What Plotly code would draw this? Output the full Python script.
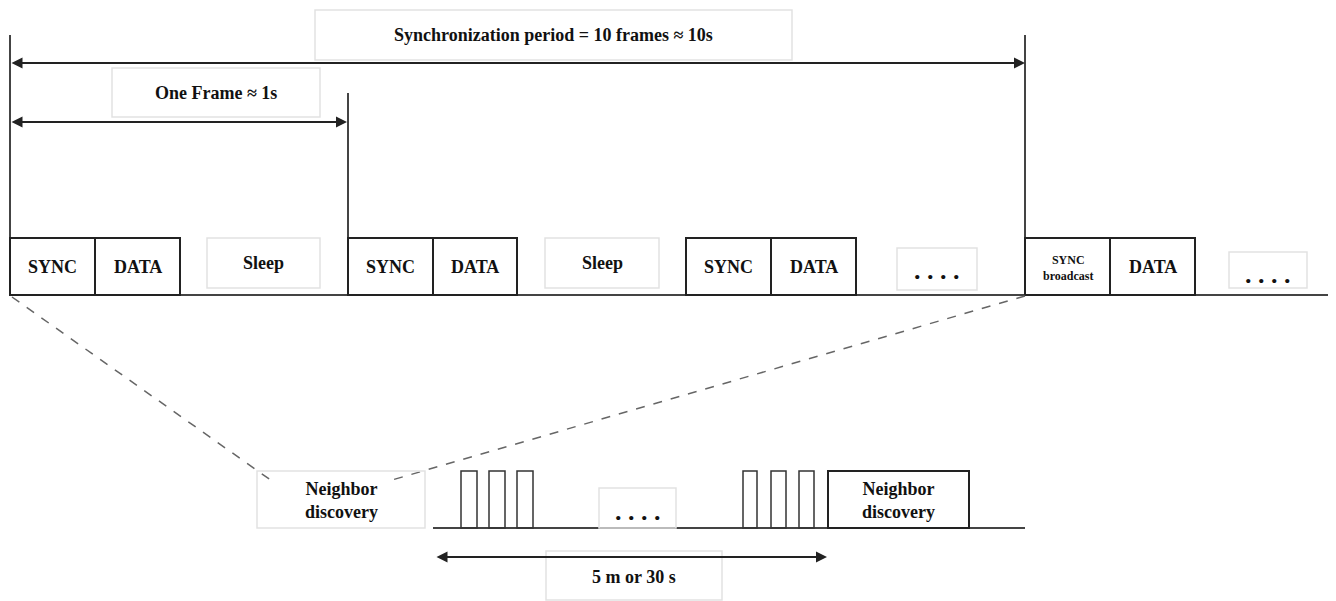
import plotly.graph_objects as go

# ---------------- diagram data (diagram units = pixels of the 1336x601 canvas) ----------------
W, H = 1336, 601
PAGE_OFFSET = 8  # default body margin of the html page

# Top timeline: boxed slots sitting on the baseline
slot_labels = ["SYNC", "DATA", "SYNC", "DATA", "SYNC", "DATA", "SYNC<br>broadcast", "DATA"]
slot_x0 = [10, 95, 348, 433, 686, 771, 1025, 1110]
slot_x1 = [95, 180, 433, 517, 771, 856, 1110, 1195]
slot_top, slot_base = 238, 295

# Soft (light-grey) label boxes on the top timeline
soft_labels = ["Sleep", "Sleep", ". . . .", ". . . ."]
soft_x0 = [207, 545, 897, 1229]
soft_x1 = [320, 659, 977, 1307]
soft_y0 = [238, 238, 248, 252]
soft_y1 = [288, 288, 290, 288]
soft_text_y = [263, 263, 270, 274]

# Frame boundaries (vertical markers)
marker_x = [10, 348, 1025]
marker_top = [35, 93, 35]

# Dimension arrows with captions
dim_labels = ["Synchronization period = 10 frames ≈ 10s", "One Frame ≈ 1s", "5 m or 30 s"]
dim_x0 = [10, 10, 435]
dim_x1 = [1025, 347, 827]
dim_y = [63, 122, 557]
cap_x0 = [315, 112, 546]
cap_x1 = [792, 320, 722]
cap_y0 = [10, 68, 551]
cap_y1 = [60, 117, 600]
cap_text_y = [35, 93, 577]

# Bottom (zoomed) timeline
nd_labels = ["Neighbor<br>discovery", "Neighbor<br>discovery"]
nd_x0 = [257, 828]
nd_x1 = [425, 969]
nd_soft = [True, False]
nd_top, nd_base = 471, 528
pulse_x0 = [461, 489, 517, 743, 771, 799]
pulse_x1 = [477, 505, 533, 757, 786, 814]
bottom_line_x = [433, 1025]
bottom_dots_box = [599, 676, 488, 528]
bottom_dots_y = 511

# Zoom (dashed) guide lines: from top timeline to bottom detail
zoom_from = [(12, 297), (1025, 296)]
zoom_to = [(272, 481), (392, 480)]

# ---------------- styles ----------------
FONT = "Liberation Serif"
DARK = "#222222"
SOFT = "#e2e2e2"

fig = go.Figure()
shapes = []
annotations = []


def text(x, y, s, size=18, bold=True):
    annotations.append(dict(
        x=x, y=y, xref="x", yref="y", text=(f"<b>{s}</b>" if bold else s),
        showarrow=False, font=dict(family=FONT, size=size, color="#111111"),
        xanchor="center", yanchor="middle"))


# baselines
shapes.append(dict(type="line", x0=10, x1=W + 20, y0=slot_base, y1=slot_base,
                   line=dict(color="#444444", width=2)))
shapes.append(dict(type="line", x0=bottom_line_x[0], x1=bottom_line_x[1], y0=nd_base, y1=nd_base,
                   line=dict(color="#444444", width=2)))

# vertical frame markers
for mx, mt in zip(marker_x, marker_top):
    shapes.append(dict(type="line", x0=mx, x1=mx, y0=mt, y1=slot_base,
                       line=dict(color="#444444", width=2)))

# slots
for lab, a, b in zip(slot_labels, slot_x0, slot_x1):
    shapes.append(dict(type="rect", x0=a, x1=b, y0=slot_top, y1=slot_base,
                       line=dict(color=DARK, width=2)))
    if "broadcast" in lab:
        text((a + b) / 2, 268, lab, size=12, bold=True)
    else:
        text((a + b) / 2, 267, lab)

# soft boxes
for lab, a, b, y0, y1, ty in zip(soft_labels, soft_x0, soft_x1, soft_y0, soft_y1, soft_text_y):
    shapes.append(dict(type="rect", x0=a, x1=b, y0=y0, y1=y1,
                       line=dict(color=SOFT, width=1.5)))
    if lab.startswith("."):
        text((a + b) / 2, ty, lab, size=26)
    else:
        text((a + b) / 2, ty, lab)

# dimension arrows & captions
for lab, a, b, y, c0, c1, cy0, cy1, ty in zip(dim_labels, dim_x0, dim_x1, dim_y,
                                             cap_x0, cap_x1, cap_y0, cap_y1, cap_text_y):
    shapes.append(dict(type="rect", x0=c0, x1=c1, y0=cy0, y1=cy1,
                       line=dict(color=SOFT, width=1.5)))
    annotations.append(dict(
        x=b, y=y, ax=a, ay=y, xref="x", yref="y", axref="x", ayref="y",
        text="", showarrow=True, arrowhead=2, startarrowhead=2, arrowside="end+start",
        arrowsize=1.1, startarrowsize=1.1, arrowwidth=2, arrowcolor=DARK))
    text((c0 + c1) / 2, ty, lab)

# zoom guide lines
for (fx, fy), (tx, ty) in zip(zoom_from, zoom_to):
    shapes.append(dict(type="line", x0=fx, y0=fy, x1=tx, y1=ty,
                       line=dict(color="#666666", width=1.5, dash="dash")))

# neighbor discovery boxes
for lab, a, b, soft in zip(nd_labels, nd_x0, nd_x1, nd_soft):
    shapes.append(dict(type="rect", x0=a, x1=b, y0=nd_top, y1=nd_base,
                       line=dict(color=(SOFT if soft else DARK), width=(1.5 if soft else 2))))
    text((a + b) / 2, 500, lab)

# pulses
for a, b in zip(pulse_x0, pulse_x1):
    shapes.append(dict(type="rect", x0=a, x1=b, y0=nd_top, y1=nd_base,
                       line=dict(color="#333333", width=1.5)))

# bottom ellipsis box
bx0, bx1, by0, by1 = bottom_dots_box
shapes.append(dict(type="rect", x0=bx0, x1=bx1, y0=by0, y1=by1,
                   line=dict(color=SOFT, width=1.5)))
text((bx0 + bx1) / 2, bottom_dots_y, ". . . .", size=26)

fig.update_layout(
    width=W, height=H, margin=dict(l=0, r=0, t=0, b=0),
    paper_bgcolor="white", plot_bgcolor="white",
    xaxis=dict(range=[PAGE_OFFSET, W + PAGE_OFFSET], visible=False, fixedrange=True),
    yaxis=dict(range=[H + PAGE_OFFSET, PAGE_OFFSET], visible=False, fixedrange=True),
    shapes=shapes, annotations=annotations, showlegend=False,
)

fig.write_html("out.html", config={"displayModeBar": False})
